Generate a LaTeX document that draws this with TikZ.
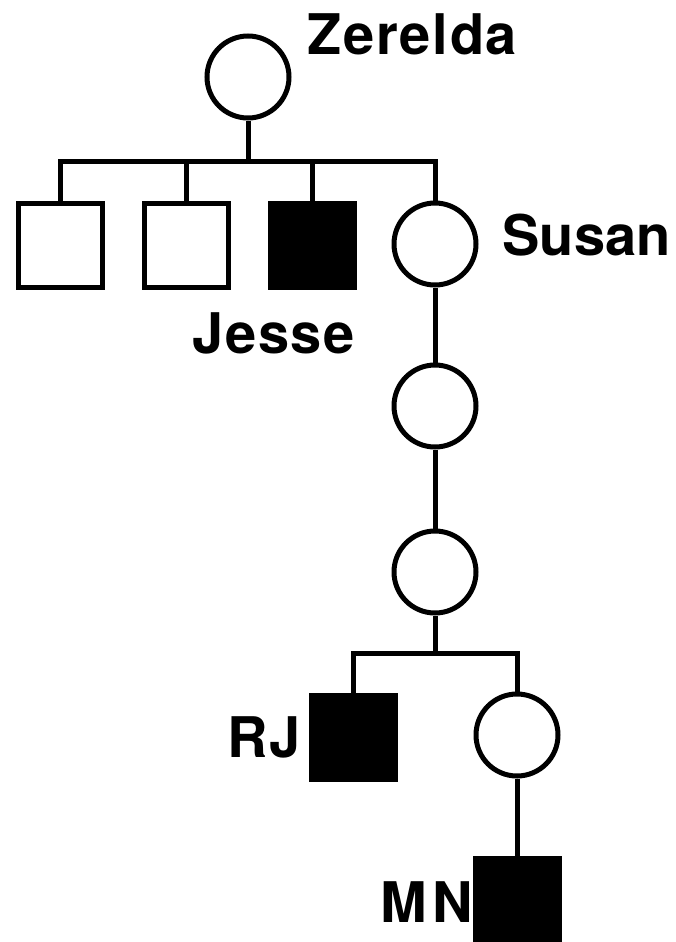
\documentclass[tikz,border=0pt]{standalone}
\usepackage{fontspec}
\setmainfont{TeX Gyre Heros}[LetterSpace=3]
\usetikzlibrary{positioning}

\begin{document}
\begin{tikzpicture}[x=1pt, y=-1pt, line width=5pt,
                    female/.style={draw, circle, minimum size=82pt, inner sep=0pt},
                    male/.style={draw, rectangle, minimum size=84pt, inner sep=0pt},
                    affected/.style={fill=black},
                    pname/.style={anchor=base west, inner sep=0pt, font=\fontsize{56}{60}\selectfont\bfseries}]
\useasboundingbox (0,0) rectangle (676,942);

\node[female] (z) at (248,77) {};
\node[male] (s1) at (60,245) {};
\node[male] (s2) at (186,245) {};
\node[male, affected] (jesse) at (312,245) {};
\node[female] (susan) at (435,244) {};
\node[female] (g1) at (435,406) {};
\node[female] (g2) at (435,572) {};
\node[male, affected] (rj) at (353,737) {};
\node[female] (m) at (517,735) {};
\node[male, affected] (mn) at (517,900) {};

\coordinate (bar1) at (248,161);
\coordinate (bar2) at (435,653);

\draw (z) -- (bar1);
\draw (s1) |- (bar1) -| (susan);
\draw (s2) -- (s2 |- bar1);
\draw (jesse) -- (jesse |- bar1);
\draw (susan) -- (g1);
\draw (g1) -- (g2);
\draw (g2) -- (bar2);
\draw (rj) |- (bar2) -| (m);
\draw (m) -- (mn);

\node[pname] (lz) at (305,55) {Zerelda};
\node[pname] (ls) at (500,255) {\addfontfeature{LetterSpace=0}Susan};
\node[pname] (lj) at (190,353) {Jesse};
\node[pname] (lrj) at (225,757) {RJ};
\node[pname] (lmn) at (378,922) {M\kern5pt N};
\end{tikzpicture}
\end{document}
